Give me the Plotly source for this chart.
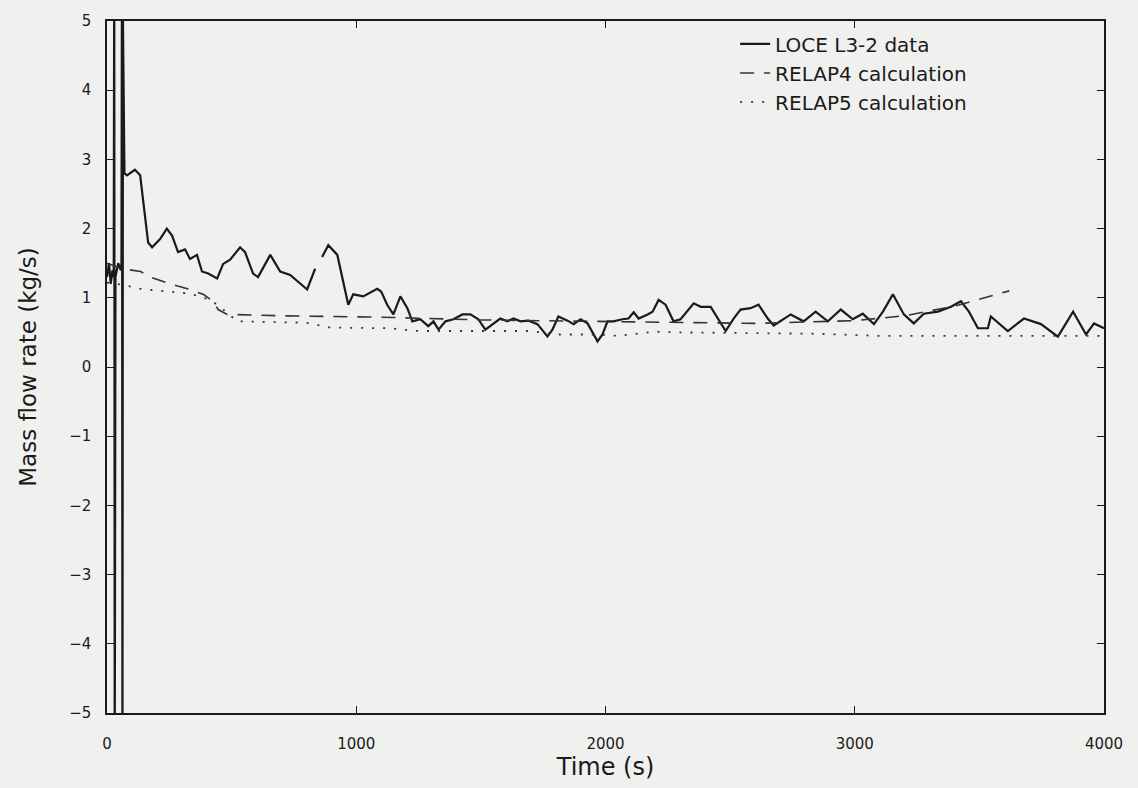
import plotly.graph_objects as go

# LOCE L3-2 measured data (time s, mass flow kg/s); None marks a gap in the record
data_t = [0, 8, 15, 22, 27, 29, 31, 34, 45, 55, 58, 60, 62, 64, 70, 80, 112, 133, 165, 181, 213, 240,
          261, 285, 313, 333, 361, 381, 406, 442, 466, 494, 534, 554, 586, 606, 655, 695,
          735, 775, 803, 835, 849, 863, 888, 924, 968, 988, 1028, 1084, 1100, 1124, 1149,
          1177, 1205, 1225, 1257, 1289, 1310, 1330, 1358, 1390, 1426, 1458, 1490, 1518,
          1550, 1578, 1606, 1631, 1659, 1691, 1727, 1767, 1787, 1811, 1848, 1872, 1900,
          1928, 1968, 1988, 2008, 2032, 2068, 2092, 2113, 2133, 2169, 2189, 2213, 2241,
          2273, 2301, 2354, 2382, 2422, 2450, 2482, 2514, 2542, 2582, 2614, 2651, 2675,
          2743, 2795, 2843, 2892, 2944, 2992, 3032, 3077, 3113, 3153, 3197, 3237, 3277,
          3334, 3386, 3426, 3458, 3494, 3534, 3546, 3614, 3679, 3747, 3815, 3876, 3928,
          3960, 4000]
data_v = [1.3, 1.5, 1.2, 1.4, 1.3, 6.0, -6.0, 1.3, 1.5, 1.4, 1.5, 6.0, -6.0, 5.0, 2.8, 2.77, 2.85, 2.77,
          1.8, 1.73, 1.85, 2.0, 1.9, 1.66, 1.7, 1.56, 1.62, 1.38, 1.35, 1.28, 1.49, 1.55,
          1.73, 1.66, 1.35, 1.3, 1.62, 1.38, 1.33, 1.2, 1.12, 1.42, None, 1.59, 1.76, 1.62,
          0.9, 1.05, 1.02, 1.13, 1.09, 0.9, 0.76, 1.02, 0.85, 0.66, 0.69, 0.59, 0.66, 0.54,
          0.66, 0.69, 0.76, 0.76, 0.69, 0.54, 0.62, 0.7, 0.66, 0.7, 0.66, 0.67, 0.62, 0.44,
          0.54, 0.73, 0.67, 0.62, 0.69, 0.63, 0.37, 0.47, 0.66, 0.66, 0.69, 0.7, 0.79, 0.7,
          0.76, 0.8, 0.97, 0.9, 0.66, 0.69, 0.92, 0.87, 0.87, 0.7, 0.52, 0.7, 0.83, 0.85,
          0.9, 0.7, 0.6, 0.76, 0.66, 0.8, 0.66, 0.83, 0.69, 0.77, 0.62, 0.8, 1.05, 0.76,
          0.63, 0.77, 0.8, 0.87, 0.95, 0.8, 0.56, 0.56, 0.73, 0.52, 0.7, 0.62, 0.44, 0.8,
          0.47, 0.63, 0.56]

# RELAP4 calculation
r4_t = [0, 60, 135, 173, 253, 333, 386, 426, 446, 482, 700, 1100, 1500, 2000, 2600, 3000,
        3200, 3400, 3620]
r4_v = [1.5, 1.42, 1.38, 1.3, 1.2, 1.12, 1.05, 0.95, 0.83, 0.76, 0.74, 0.72, 0.68, 0.66,
        0.63, 0.67, 0.74, 0.88, 1.1]

# RELAP5 calculation
r5_t = [0, 60, 133, 333, 414, 454, 522, 800, 896, 1130, 1250, 1700, 1800, 1970, 2050,
        2200, 2300, 2600, 2850, 3100, 4000]
r5_v = [1.22, 1.19, 1.13, 1.06, 0.97, 0.87, 0.66, 0.64, 0.57, 0.56, 0.52, 0.52, 0.47,
        0.47, 0.45, 0.51, 0.5, 0.49, 0.48, 0.45, 0.45]

x_ticks = [0, 1000, 2000, 3000, 4000]
y_ticks = [5, 4, 3, 2, 1, 0, -1, -2, -3, -4, -5]

font_family = "DejaVu Sans, Liberation Sans, sans-serif"
ink = "#1a1a1a"
bg = "#f0f0ef"

fig = go.Figure()
fig.add_trace(go.Scatter(x=data_t, y=data_v, mode="lines", name="LOCE L3-2 data",
                         line=dict(color=ink, width=2.2), connectgaps=False))
fig.add_trace(go.Scatter(x=r4_t, y=r4_v, mode="lines", name="RELAP4 calculation",
                         line=dict(color="#333333", width=1.6, dash="14px,10px")))
fig.add_trace(go.Scatter(x=r5_t, y=r5_v, mode="lines", name="RELAP5 calculation",
                         line=dict(color="#333333", width=1.8, dash="2px,9px")))

fig.update_layout(
    width=1138, height=788,
    paper_bgcolor=bg, plot_bgcolor=bg,
    margin=dict(l=107, r=34, t=17, b=73),
    font=dict(family=font_family, color=ink),
    showlegend=True,
    legend=dict(x=0.63, y=0.995, xanchor="left", yanchor="top",
                bgcolor="rgba(0,0,0,0)", borderwidth=0,
                font=dict(size=20, family=font_family, color=ink),
                tracegroupgap=0),
    xaxis=dict(range=[0, 4000], tickvals=x_ticks, ticks="inside", ticklen=7,
               tickcolor=ink, showline=True, linecolor=ink, linewidth=1.5,
               mirror="ticks", showgrid=False, zeroline=False, ticklabelstandoff=16,
               tickfont=dict(size=15), title=dict(text="Time (s)", font=dict(size=24), standoff=6)),
    yaxis=dict(range=[-5, 5], tickvals=y_ticks, ticks="inside", ticklen=7,
               tickcolor=ink, showline=True, linecolor=ink, linewidth=1.5,
               mirror="ticks", showgrid=False, zeroline=False, ticklabelstandoff=11,
               tickfont=dict(size=15), title=dict(text="Mass flow rate (kg/s)", font=dict(size=23), standoff=26)),
)

fig.write_html("out.html", config={"displayModeBar": False},
               post_script="document.body.style.margin='0';document.body.style.background='%s';" % bg)
